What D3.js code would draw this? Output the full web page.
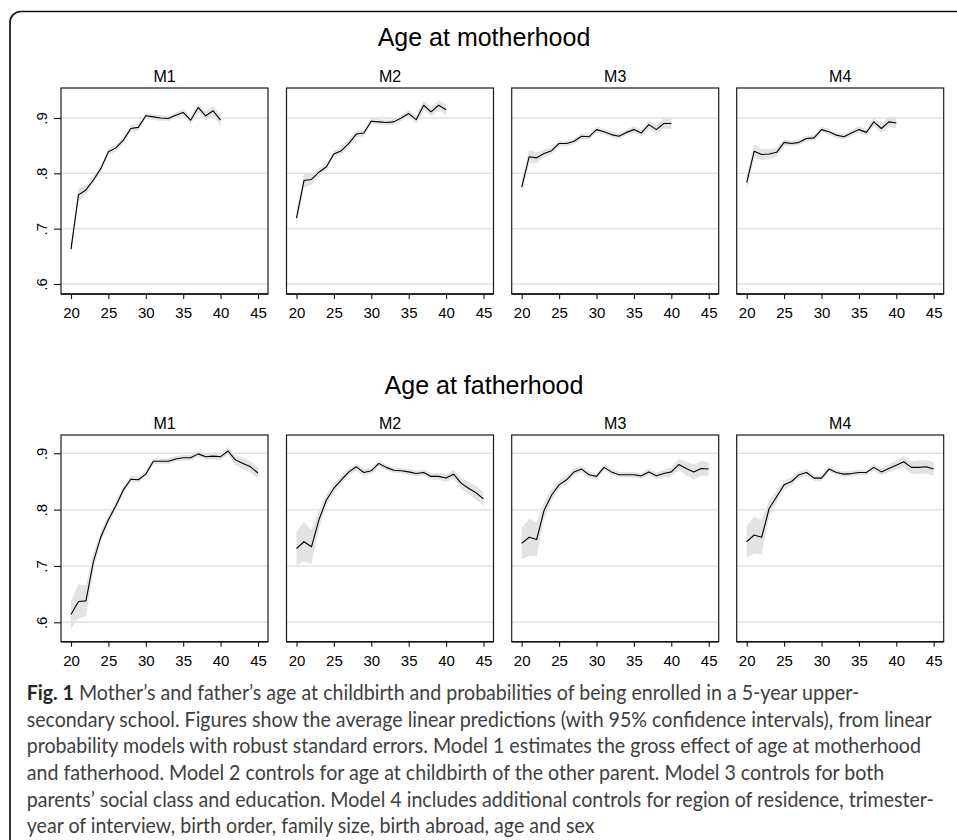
<!DOCTYPE html>
<html>
<head>
<meta charset="utf-8">
<script src="https://cdn.jsdelivr.net/npm/d3@7/dist/d3.min.js"></script>
<style>
  html, body { margin: 0; padding: 0; background: #fff; }
  svg { display: block; }
</style>
</head>
<body>
<svg id="chart" width="957" height="840"></svg>
<script>
// ---------------- DATA ----------------
const rowTitles = ["Age at motherhood", "Age at fatherhood"];
const panelTitles = ["M1", "M2", "M3", "M4"];
const xTicks = [20, 25, 30, 35, 40, 45];
const yTicks = [0.6, 0.7, 0.8, 0.9];
const yTickLabels = [".6", ".7", ".8", ".9"];

const agesMother = [20,21,22,23,24,25,26,27,28,29,30,31,32,33,34,35,36,37,38,39,40];
const agesFather = [20,21,22,23,24,25,26,27,28,29,30,31,32,33,34,35,36,37,38,39,40,41,42,43,44,45];

// Age at motherhood: predicted probabilities
const motherM1 = [.663,.761,.770,.788,.809,.839,.846,.860,.881,.883,.904,.902,.900,.899,.905,.910,.896,.919,.904,.913,.896];
const motherM2 = [.719,.787,.789,.802,.812,.835,.841,.854,.871,.873,.894,.893,.892,.893,.900,.908,.897,.923,.911,.923,.915];
const motherM3 = [.775,.830,.828,.836,.841,.854,.854,.858,.867,.866,.879,.875,.870,.867,.874,.879,.873,.888,.879,.890,.890];
const motherM4 = [.783,.840,.834,.835,.838,.856,.854,.856,.863,.864,.879,.875,.869,.866,.873,.879,.874,.893,.881,.893,.891];
// 95% CI half-widths
const motherM1ci = [.010,.012,.009,.007,.006,.006,.006,.006,.006,.006,.005,.005,.005,.005,.005,.006,.007,.008,.008,.009,.010];
const motherM2ci = [.012,.013,.010,.007,.006,.006,.006,.006,.006,.006,.005,.005,.005,.005,.005,.006,.007,.008,.008,.009,.010];
const motherM3ci = [.013,.012,.010,.007,.006,.005,.005,.005,.005,.005,.005,.005,.005,.005,.005,.006,.006,.008,.008,.009,.010];
const motherM4ci = [.013,.012,.010,.009,.008,.006,.005,.005,.005,.005,.005,.005,.005,.005,.005,.006,.006,.008,.008,.009,.010];

// Age at fatherhood: predicted probabilities
const fatherM1 = [.614,.637,.638,.708,.752,.782,.807,.835,.854,.853,.863,.886,.886,.886,.890,.892,.892,.899,.894,.895,.894,.904,.888,.882,.876,.865];
const fatherM2 = [.731,.743,.734,.782,.817,.838,.853,.867,.876,.866,.869,.882,.875,.870,.869,.867,.864,.866,.859,.859,.856,.863,.847,.838,.830,.819];
const fatherM3 = [.740,.751,.747,.799,.826,.844,.853,.867,.872,.862,.859,.875,.867,.862,.862,.862,.860,.867,.860,.864,.867,.880,.873,.867,.873,.872];
const fatherM4 = [.743,.755,.751,.802,.823,.844,.850,.862,.866,.856,.856,.872,.866,.863,.864,.866,.866,.875,.867,.873,.879,.885,.875,.875,.876,.872];
// 95% CI half-widths
const fatherM1ci = [.025,.030,.028,.015,.010,.008,.007,.006,.006,.005,.005,.005,.005,.005,.005,.005,.005,.005,.005,.006,.006,.007,.009,.010,.010,.010];
const fatherM2ci = [.030,.035,.030,.015,.010,.008,.007,.006,.006,.006,.005,.005,.005,.005,.005,.005,.005,.005,.006,.006,.007,.008,.010,.011,.012,.012];
const fatherM3ci = [.028,.033,.030,.015,.010,.008,.007,.006,.006,.006,.005,.005,.005,.005,.005,.005,.005,.006,.006,.007,.008,.010,.012,.013,.013,.012];
const fatherM4ci = [.028,.033,.030,.015,.010,.008,.007,.006,.006,.006,.005,.005,.005,.005,.005,.005,.005,.006,.006,.007,.008,.010,.011,.012,.012,.012];

const captionBold = "Fig. 1";
const captionLines = [
  " Mother\u2019s and father\u2019s age at childbirth and probabilities of being enrolled in a 5-year upper-",
  "secondary school. Figures show the average linear predictions (with 95% confidence intervals), from linear",
  "probability models with robust standard errors. Model 1 estimates the gross effect of age at motherhood",
  "and fatherhood. Model 2 controls for age at childbirth of the other parent. Model 3 controls for both",
  "parents\u2019 social class and education. Model 4 includes additional controls for region of residence, trimester-",
  "year of interview, birth order, family size, birth abroad, age and sex"
];

const rows = [
  { title: rowTitles[0], ages: agesMother, series: [motherM1, motherM2, motherM3, motherM4], ci: [motherM1ci, motherM2ci, motherM3ci, motherM4ci] },
  { title: rowTitles[1], ages: agesFather, series: [fatherM1, fatherM2, fatherM3, fatherM4], ci: [fatherM1ci, fatherM2ci, fatherM3ci, fatherM4ci] }
];

// ---------------- LAYOUT ----------------
const svg = d3.select("#chart");
const FONT = "'Liberation Sans', Arial, Helvetica, sans-serif";

// outer rounded frame (cropped at right/bottom)
svg.append("rect")
  .attr("x", 10).attr("y", 11.5)
  .attr("width", 990).attr("height", 900)
  .attr("rx", 11).attr("ry", 11)
  .attr("fill", "none").attr("stroke", "#111").attr("stroke-width", 1.7);

const panelLefts = [61, 286.5, 511.7, 736.7];
const panelW = 207;
const rowGeom = [
  { titleY: 45.5, labelY: 81.5, top: 88, bottom: 294, y6: 284, y9: 118 },
  { titleY: 393.5, labelY: 428.5, top: 435, bottom: 641.7, y6: 622.3, y9: 453.3 }
];

rows.forEach((row, ri) => {
  const g = rowGeom[ri];
  svg.append("text")
    .attr("x", 484).attr("y", g.titleY)
    .attr("text-anchor", "middle")
    .style("font-family", FONT).style("font-size", "25px")
    .attr("fill", "#000")
    .text(row.title);

  const y = d3.scaleLinear().domain([0.6, 0.9]).range([g.y6, g.y9]);

  row.series.forEach((vals, pi) => {
    const left = panelLefts[pi];
    const x = d3.scaleLinear().domain([20, 45]).range([left + 10, left + 197]);
    const pg = svg.append("g");

    // panel title
    pg.append("text")
      .attr("x", left + panelW / 2).attr("y", g.labelY)
      .attr("text-anchor", "middle")
      .style("font-family", FONT).style("font-size", "16px")
      .attr("fill", "#000")
      .text(panelTitles[pi]);

    // gridlines
    pg.selectAll("line.grid").data(yTicks).enter().append("line")
      .attr("x1", left).attr("x2", left + panelW)
      .attr("y1", d => y(d)).attr("y2", d => y(d))
      .attr("stroke", "#e2e2e2").attr("stroke-width", 1.5);

    const pts = row.ages.map((a, i) => ({ a, v: vals[i], c: row.ci[pi][i] }));

    // confidence band
    const area = d3.area()
      .x(d => x(d.a))
      .y0(d => y(d.v - d.c))
      .y1(d => y(d.v + d.c));
    pg.append("path").datum(pts)
      .attr("d", area)
      .attr("fill", "#e3e3e3").attr("stroke", "none");

    // prediction line
    const line = d3.line().x(d => x(d.a)).y(d => y(d.v));
    pg.append("path").datum(pts)
      .attr("d", line)
      .attr("fill", "none").attr("stroke", "#000").attr("stroke-width", 1.1)
      .attr("stroke-linejoin", "round");

    // panel frame
    pg.append("rect")
      .attr("x", left).attr("y", g.top)
      .attr("width", panelW).attr("height", g.bottom - g.top)
      .attr("fill", "none").attr("stroke", "#1a1a1a").attr("stroke-width", 1.2);

    // x axis
    const xAxis = d3.axisBottom(x).tickValues(xTicks).tickSize(5).tickSizeOuter(0).tickPadding(5);
    const xg = pg.append("g").attr("transform", `translate(0,${g.bottom})`).call(xAxis);
    xg.attr("font-family", null).attr("font-size", null);
    xg.select(".domain").attr("stroke", "#111").attr("stroke-width", 1.5)
      .attr("d", `M${left},0H${left + panelW}`);
    xg.selectAll(".tick line").attr("stroke", "#111").attr("stroke-width", 1.1);
    xg.selectAll(".tick text")
      .style("font-family", FONT).style("font-size", "15px").attr("fill", "#000")
      .attr("dy", null).attr("y", 24.3);

    // y axis (only first panel carries labels)
    if (pi === 0) {
      const yAxis = d3.axisLeft(y).tickValues(yTicks).tickSize(7).tickSizeOuter(0)
        .tickFormat((d, i) => yTickLabels[i]);
      const yg = pg.append("g").attr("transform", `translate(${left},0)`).call(yAxis);
      yg.attr("font-family", null).attr("font-size", null);
      yg.select(".domain").remove();
      yg.selectAll(".tick line").attr("stroke", "#111").attr("stroke-width", 1.1);
      yg.selectAll(".tick text")
        .style("font-family", FONT).style("font-size", "15px").attr("fill", "#000")
        .attr("x", null).attr("dy", null)
        .attr("text-anchor", "middle")
        .attr("transform", "translate(-14,0) rotate(-90)");
    }
  });
});

// ---------------- CAPTION ----------------
const CAP_FONT = "Lato, 'Open Sans', 'Noto Sans', sans-serif";
const capG = svg.append("g");
const capInner = capG.append("g");
captionLines.forEach((txt, i) => {
  const t = capInner.append("text")
    .attr("x", 0).attr("y", 700 + i * 26.7)
    .style("font-family", CAP_FONT).style("font-size", "21px")
    .attr("fill", "#404040");
  if (i === 0) {
    t.append("tspan").attr("font-weight", "bold").attr("fill", "#262626").text(captionBold);
  }
  t.append("tspan").text(txt);
});
// fit the caption to the reference's measured line width (line 2 ends at x ≈ 932)
const l2 = capInner.selectAll("text").nodes()[1];
const w2 = l2.getComputedTextLength();
const sx = (932 - 26.7) / w2;
capG.attr("transform", `translate(26.7,0) scale(${sx},1)`);
</script>
</body>
</html>
